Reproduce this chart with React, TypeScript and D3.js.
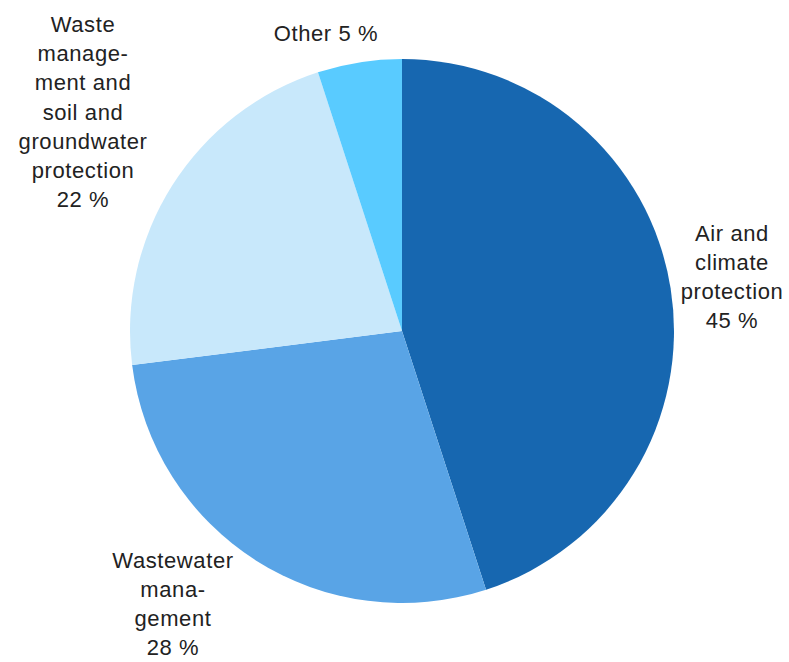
import React from "react";
import * as d3 from "d3";

const categories = ["Air and climate protection", "Wastewater management", "Waste management and soil and groundwater protection", "Other"];
const values = [45, 28, 22, 5];
const colors = ["#1767b0", "#59a4e6", "#c8e8fb", "#59cbff"];
const labelLines = [
  ["Air and", "climate", "protection", "45 %"],
  ["Wastewater", "mana-", "gement", "28 %"],
  ["Waste", "manage-", "ment and", "soil and", "groundwater", "protection", "22 %"],
  ["Other 5 %"],
];

const W = 789;
const H = 662;
const CX = 402;
const CY = 331;
const R = 272;
// label block centres (layout)
const labelPos: [number, number][] = [
  [732, 277],
  [173, 604],
  [83, 112],
  [326, 33],
];
const LH = 29.2;

export default function App() {
  const pie = d3.pie<number>().sort(null).value((d) => d);
  const arcs = pie(values);
  const arc = d3.arc<d3.PieArcDatum<number>>().innerRadius(0).outerRadius(R);
  return (
    <svg width={W} height={H} style={{ position: "absolute", left: 0, top: 0, background: "#fff" }}>
      <g transform={`translate(${CX},${CY})`}>
        {arcs.map((a, i) => (
          <path key={categories[i]} d={arc(a) || ""} fill={colors[i]} />
        ))}
      </g>
      {labelLines.map((lines, i) => (
        <text
          key={categories[i]}
          textAnchor="middle"
          fontFamily="'Liberation Sans', Arial, sans-serif"
          fontSize={22}
          letterSpacing={0.6}
          fill="#222"
        >
          {lines.map((l, j) => (
            <tspan key={j} x={labelPos[i][0]} y={labelPos[i][1] + (j - (lines.length - 1) / 2) * LH} dominantBaseline="central">
              {l}
            </tspan>
          ))}
        </text>
      ))}
    </svg>
  );
}
